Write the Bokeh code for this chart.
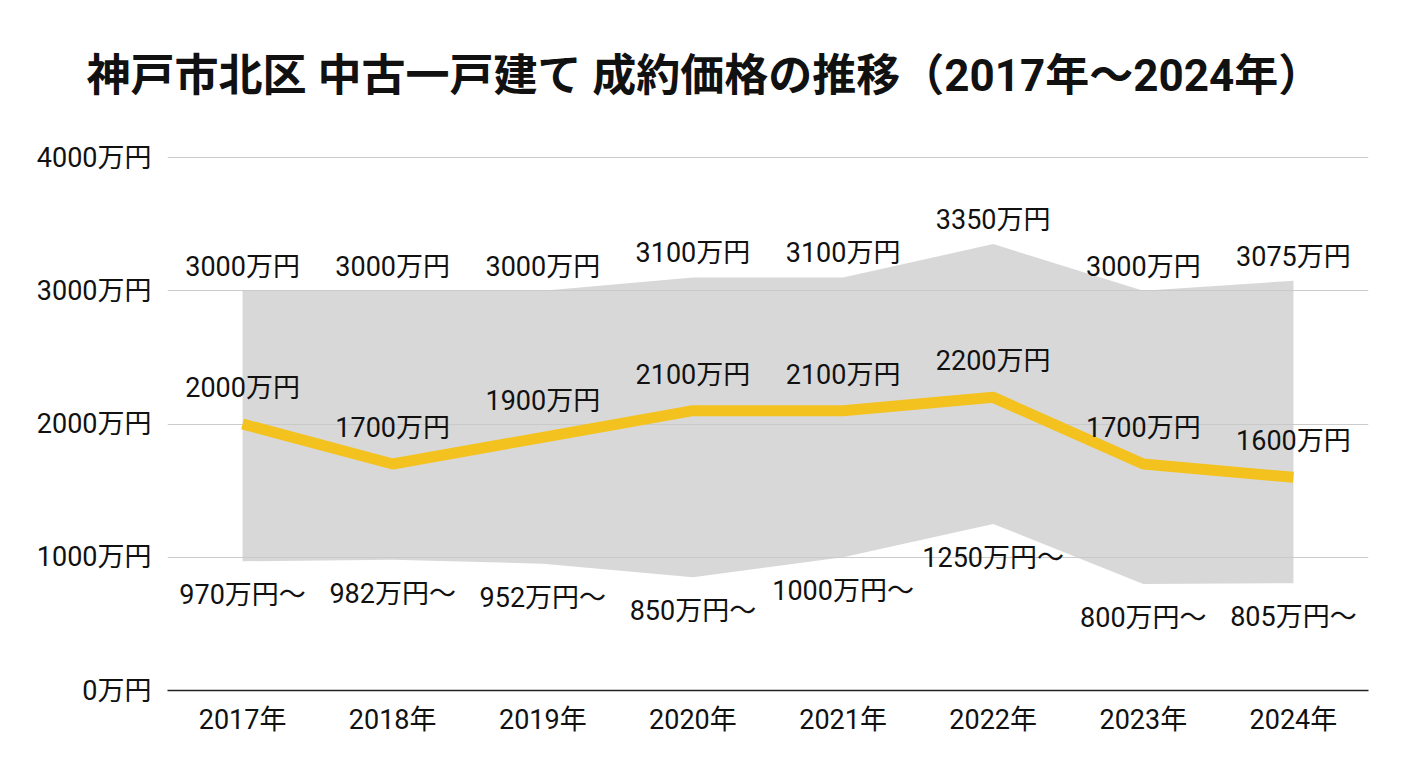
from bokeh.plotting import figure
from bokeh.models import ColumnDataSource, Range1d, FixedTicker
from bokeh.core.properties import value
from bokeh.embed import file_html
from bokeh.resources import INLINE

# 年ごとの成約価格（万円）
years = ["2017年", "2018年", "2019年", "2020年", "2021年", "2022年", "2023年", "2024年"]
low = [970, 982, 952, 850, 1000, 1250, 800, 805]
high = [3000, 3000, 3000, 3100, 3100, 3350, 3000, 3075]
median = [2000, 1700, 1900, 2100, 2100, 2200, 1700, 1600]
y_ticks = [0, 1000, 2000, 3000, 4000]

FONT = "Roboto, 'Noto Sans CJK JP', sans-serif"
LABEL_SIZE = "27px"

xs = list(range(len(years)))
src = ColumnDataSource(data=dict(
    x=xs,
    low=low,
    high=high,
    median=median,
    low_txt=[f"{v}万円〜" for v in low],
    high_txt=[f"{v}万円" for v in high],
    med_txt=[f"{v}万円" for v in median],
))

# 上端は4000の目盛りより少し上まで（タイトルとの間隔のため）
p = figure(width=1392, height=752, output_backend="svg", toolbar_location=None,
           x_range=Range1d(-0.5, len(years) - 0.5), y_range=Range1d(0, 4127.6),
           min_border_left=167, min_border_right=24, min_border_top=140,
           min_border_bottom=62,
           title="神戸市北区 中古一戸建て 成約価格の推移（2017年〜2024年）")

p.title.text_font = FONT
p.title.text_font_size = "44px"
p.title.text_font_style = "bold"
p.title.text_color = "#111111"
p.title.align = "left"
p.title.offset = -81
p.title.standoff = 78

p.outline_line_color = None
p.background_fill_color = "white"
p.border_fill_color = "white"

# 価格帯（最低〜最高）
p.varea(x="x", y1="low", y2="high", source=src,
        fill_color="#c8c8c8", fill_alpha=0.7)

# 中央値
p.line(x="x", y="median", source=src, line_color="#F4C21F", line_width=11)

# ラベル
common = dict(source=src, text_align="center", text_baseline="middle",
              text_font=value(FONT), text_font_size=LABEL_SIZE,
              text_color="#111111")
p.text(x="x", y="high", text="high_txt", y_offset=-24, **common)
p.text(x="x", y="median", text="med_txt", y_offset=-36, **common)
p.text(x="x", y="low", text="low_txt", y_offset=34, **common)

# 軸
p.xaxis.ticker = FixedTicker(ticks=xs)
p.xaxis.major_label_overrides = {i: y for i, y in enumerate(years)}
p.yaxis.ticker = FixedTicker(ticks=y_ticks)
p.yaxis.major_label_overrides = {v: f"{v}万円" for v in y_ticks}

for ax in (p.xaxis, p.yaxis):
    ax.major_label_text_font = FONT
    ax.major_label_text_font_size = LABEL_SIZE
    ax.major_label_text_color = "#111111"
    ax.major_tick_line_color = None
    ax.minor_tick_line_color = None

p.xaxis.major_label_standoff = 7
p.yaxis.major_label_standoff = 10

p.xaxis.axis_line_color = "#222222"
p.xaxis.axis_line_width = 1.5
p.yaxis.axis_line_color = None

p.xgrid.grid_line_color = None
p.ygrid.grid_line_color = "#cccccc"
p.ygrid.grid_line_width = 1

open("out.html", "w").write(file_html(p, INLINE))
